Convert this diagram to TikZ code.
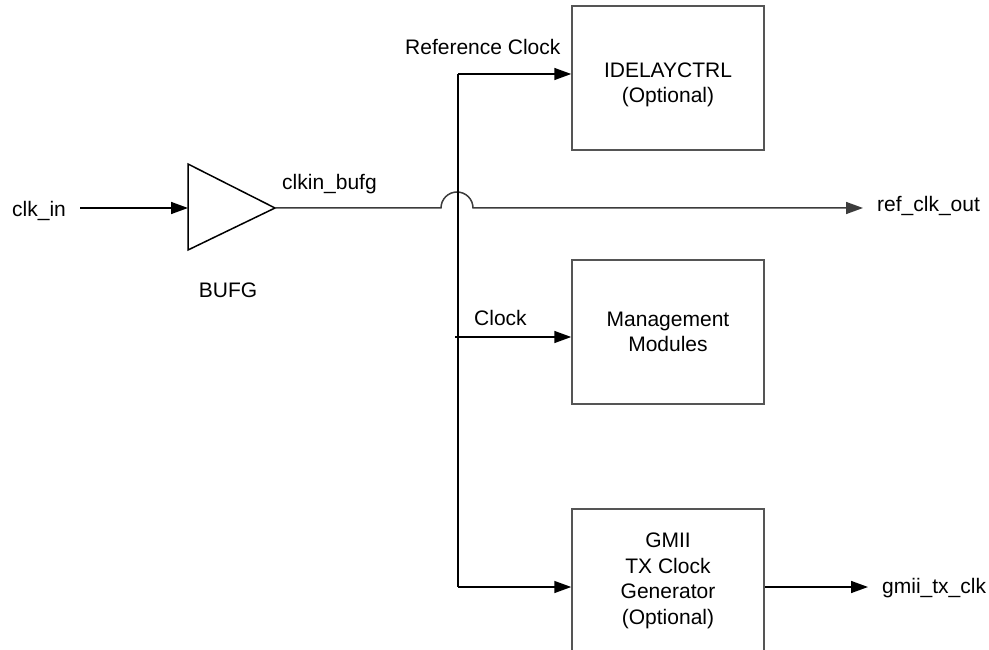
\documentclass[tikz,border=0pt]{standalone}
\usepackage{fontspec}
\setmainfont{Liberation Sans}
\usetikzlibrary{arrows.meta,calc}
\definecolor{boxgray}{RGB}{85,85,85}
\definecolor{wiregray}{RGB}{60,60,60}
\begin{document}
\begin{tikzpicture}[x=1pt,y=-1pt,
  every node/.style={font=\fontsize{21}{25.5}\selectfont},
  lbl/.style={inner sep=0pt,anchor=base west},
  blk/.style={draw=boxgray,line width=1.5pt,minimum width=192pt,minimum height=144pt,align=center,inner sep=0pt},
  wire/.style={line width=1.5pt,black},
  arr/.style={wire,-{Triangle[length=17pt,width=12pt]}}]
\useasboundingbox (0,0) rectangle (989,650);
\begin{scope}
\clip (0,0) rectangle (989,650);
% boxes
\node[blk] (idelay) at (668,78) {};
\node[align=center,inner sep=0pt] (idtxt) at (668,85) {IDELAYCTRL\\(Optional)};
\node[blk] (mgmt) at (668,332) {Management\\Modules};
\node[blk] (gmii) at (668,581) {GMII\\TX Clock\\Generator\\(Optional)};
\end{scope}
% BUFG triangle
\coordinate (bufin) at (188,208);
\coordinate (bufout) at (275,208);
\coordinate (buft) at (188,164);
\coordinate (bufb) at (188,250);
\draw[line width=1.5pt,black,line join=miter] (buft) -- (bufout) -- (bufb) -- cycle;
% coordinates
\coordinate (inA) at (80,208);
\coordinate (hopL) at (441,208);
\coordinate (refout) at (863,208);
\coordinate (vtop) at (458,74);
\coordinate (vbot) at (458,587);
\coordinate (clkS) at (455,337);
\coordinate (gmout) at (868,587);
% labels
\node[lbl] (clkin) at (12,217) {clk\_in};
\node[lbl] (clkinbufg) at (282,190) {clkin\_bufg};
\node[inner sep=0pt,anchor=base] (bufg) at (228,298) {BUFG};
\node[lbl] (refclk) at (405,55) {Reference Clock};
\node[lbl] (clock) at (474,325) {Clock};
\node[lbl] (refclkout) at (877,212) {ref\_clk\_out};
\node[lbl] (gmiitx) at (882,593) {gmii\_tx\_clk};
% connectors
\draw[arr] (inA) -- (bufin);
\draw[arr,wiregray] (bufout) -- (hopL) arc[start angle=180,end angle=0,radius=16pt] -- (refout);
\draw[arr] (vtop) -- (vtop -| idelay.west);
\draw[wire] (vtop) -- (vbot);
\draw[arr] (vbot) -- (vbot -| gmii.west);
\draw[arr] (clkS) -- (clkS -| mgmt.west);
\draw[arr] (vbot -| gmii.east) -- (gmout);
\end{tikzpicture}
\end{document}
